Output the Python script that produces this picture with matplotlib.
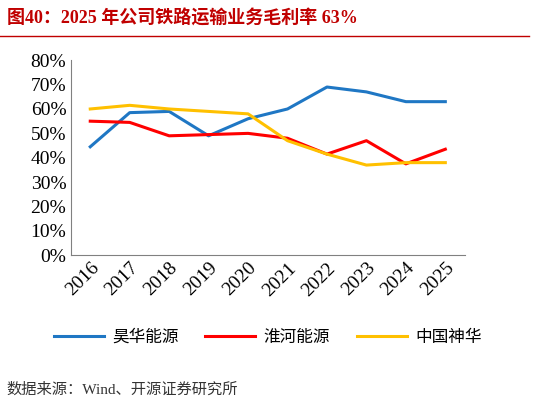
import matplotlib
matplotlib.use("Agg")
import matplotlib.pyplot as plt
from matplotlib.ticker import PercentFormatter

years = ["2016","2017","2018","2019","2020","2021","2022","2023","2024","2025"]
haohua = [44.5,58.5,59,49,56,60,69,67,63,63]
huaihe = [55,54.5,49,49.5,50,48,41.5,47,37.5,43.5]
shenhua = [60,61.5,60,59,58,47,41.5,37,38,38]
names = ["昊华能源","淮河能源","中国神华"]
cjk = ["Noto Sans CJK SC","DejaVu Sans"]
serif = ["Liberation Serif","Noto Sans CJK SC"]

fig = plt.figure(figsize=(5.51,4.04), dpi=100)
ax = fig.add_axes([0.128, 0.368, 0.716, 0.483])
x = range(len(years))
ax.plot(x, haohua, color="#1F77C4", lw=2.2, label=names[0])
ax.plot(x, huaihe, color="#FF0000", lw=2.2, label=names[1])
ax.plot(x, shenhua, color="#FFC000", lw=2.2, label=names[2])
ax.set_ylim(0,80)
ax.set_yticks(range(0,81,10))
ax.yaxis.set_major_formatter(PercentFormatter(decimals=0))
ax.set_xlim(-0.5, 9.5)
ax.set_xticks(list(x))
ax.set_xticklabels(years, rotation=45, ha="right", rotation_mode="anchor")
for lab in ax.get_xticklabels()+ax.get_yticklabels():
    lab.set_fontfamily(serif); lab.set_fontsize(14)
for s in ["top","right"]:
    ax.spines[s].set_visible(False)
ax.spines["bottom"].set_color("#808080")
ax.spines["left"].set_color("#808080")
ax.tick_params(axis="both", length=0, pad=3)
ax.legend(loc="upper center", bbox_to_anchor=(0.5,-0.3), ncol=3, frameon=False,
          prop={"family":cjk,"size":12}, handlelength=3.0, handletextpad=0.5,
          columnspacing=1.6)

fig.text(0.012, 0.955, "图40：2025 年公司铁路运输业务毛利率 63%", fontsize=13,
         fontweight="bold", color="#C00000", family=["Liberation Serif","Noto Sans CJK SC"], va="center")
fig.add_artist(plt.Line2D([0.0,0.96],[0.91,0.91], color="#C00000", lw=1))
fig.text(0.012, 0.035, "数据来源：Wind、开源证券研究所", fontsize=11, color="#333333",
         family=["Liberation Serif","Noto Sans CJK SC"], va="center")
fig.savefig("out.png", dpi=100)
